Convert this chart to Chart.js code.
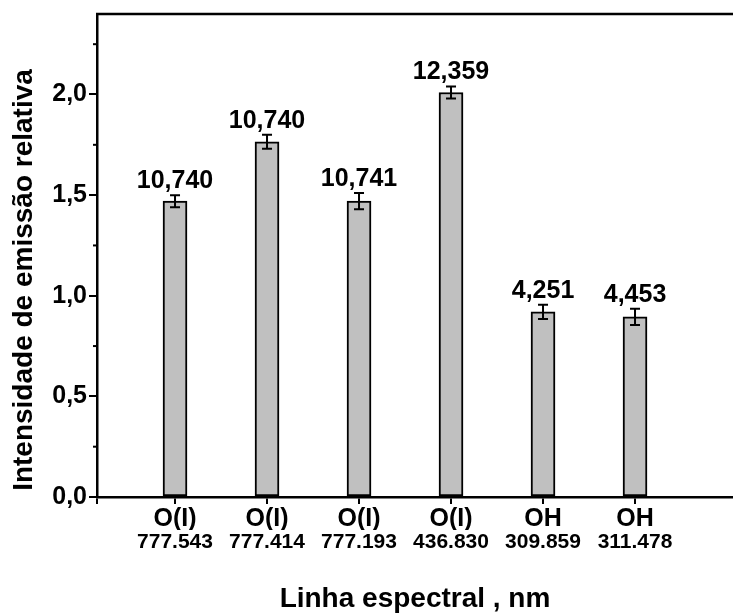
<!DOCTYPE html>
<html><head><meta charset="utf-8">
<script src="https://cdn.jsdelivr.net/npm/chart.js@4"></script>
<style>html,body{margin:0;padding:0;background:#fff}</style>
</head><body>
<canvas id="c" width="733" height="614"></canvas>
<script>
const positions = [1, 2, 3, 4, 5, 6];
const species = ["O(I)", "O(I)", "O(I)", "O(I)", "OH", "OH"];
const wavelengths = ["777.543", "777.414", "777.193", "436.830", "309.859", "311.478"];
const intensities = [1.47, 1.765, 1.47, 2.01, 0.92, 0.895];
const errors = [0.03, 0.035, 0.04, 0.03, 0.035, 0.04];
const barLabels = ["10,740", "10,740", "10,741", "12,359", "4,251", "4,453"];
const yMajorTicks = [0, 0.5, 1.0, 1.5, 2.0];
const yMinorTicks = [0.25, 0.75, 1.25, 1.75, 2.25];
const yTitle = "Intensidade de emissão relativa";
const xTitle = "Linha espectral , nm";

const FONT = "'Liberation Sans', Arial, sans-serif";
const X_MIN = 0.152, X_MAX = 7.065;

const extras = {
  id: 'extras',
  afterDatasetsDraw(chart) {
    const ctx = chart.ctx, xs = chart.scales.x, ys = chart.scales.y, a = chart.chartArea;
    ctx.save();
    ctx.strokeStyle = '#000';
    ctx.lineWidth = 2;
    positions.forEach((p, i) => {
      const px = xs.getPixelForValue(p);
      const yHi = ys.getPixelForValue(intensities[i] + errors[i]);
      const yLo = ys.getPixelForValue(intensities[i] - errors[i]);
      ctx.beginPath();
      ctx.moveTo(px, yHi); ctx.lineTo(px, yLo);
      ctx.moveTo(px - 5, yHi); ctx.lineTo(px + 5, yHi);
      ctx.moveTo(px - 5, yLo); ctx.lineTo(px + 5, yLo);
      ctx.stroke();
      ctx.fillStyle = '#000';
      ctx.font = "bold 25px " + FONT;
      ctx.textAlign = 'center';
      ctx.textBaseline = 'alphabetic';
      ctx.fillText(barLabels[i], px, yHi - 7);
    });
    ctx.lineWidth = 2;
    yMinorTicks.forEach(v => {
      const py = ys.getPixelForValue(v);
      ctx.beginPath(); ctx.moveTo(a.left - 4, py); ctx.lineTo(a.left, py); ctx.stroke();
    });
    ctx.lineWidth = 2.5;
    ctx.beginPath(); ctx.moveTo(a.left - 1, a.top); ctx.lineTo(chart.width, a.top); ctx.stroke();
    ctx.restore();
  },
  afterDraw(chart) {
    const ctx = chart.ctx, a = chart.chartArea;
    ctx.save();
    ctx.fillStyle = '#000';
    ctx.font = "bold 28px " + FONT;
    ctx.textAlign = 'center';
    ctx.textBaseline = 'alphabetic';
    ctx.fillText(xTitle, (a.left + a.right) / 2, 607);
    ctx.translate(32, 280);
    ctx.rotate(-Math.PI / 2);
    ctx.fillText(yTitle, 0, 0);
    ctx.restore();
  }
};

const xTickList = (scale) => { scale.ticks = [{ value: X_MIN }].concat(positions.map(v => ({ value: v }))); };
const labelFor = (arr) => (val) => { const i = positions.indexOf(val); return i >= 0 ? arr[i] : ''; };

new Chart(document.getElementById('c'), {
  type: 'bar',
  data: {
    datasets: [{
      data: positions.map((p, i) => ({ x: p, y: intensities[i] })),
      backgroundColor: '#c0c0c0',
      borderColor: '#000',
      borderWidth: 2,
      borderSkipped: false,
      barThickness: 24
    }]
  },
  options: {
    responsive: false,
    animation: false,
    layout: { padding: { top: 14, right: 0, left: 0, bottom: 0 } },
    plugins: { legend: { display: false }, tooltip: { enabled: false } },
    scales: {
      x: {
        type: 'linear', position: 'bottom', min: X_MIN, max: X_MAX, offset: false,
        afterBuildTicks: xTickList,
        afterFit: (s) => { s.height = 33; s.paddingLeft = 0; s.paddingRight = 0; },
        grid: { display: true, offset: false, drawOnChartArea: false, drawTicks: true, tickLength: 7, color: '#000', lineWidth: 2 },
        border: { display: true, color: '#000', width: 2.5 },
        ticks: { autoSkip: false, maxRotation: 0, padding: 0, color: '#000', font: { family: FONT, size: 25, weight: 'bold' }, callback: labelFor(species) }
      },
      x2: {
        type: 'linear', position: 'bottom', min: X_MIN, max: X_MAX, offset: false,
        afterBuildTicks: xTickList,
        afterFit: (s) => { s.height = 84; s.paddingLeft = 0; s.paddingRight = 0; },
        grid: { display: false, offset: false, drawTicks: false },
        border: { display: false },
        ticks: { autoSkip: false, maxRotation: 0, padding: 0, color: '#000', font: { family: FONT, size: 21, weight: 'bold' }, callback: labelFor(wavelengths) }
      },
      y: {
        type: 'linear', min: 0, max: 2.4,
        afterBuildTicks: (s) => { s.ticks = yMajorTicks.map(v => ({ value: v })); },
        afterFit: (s) => { s.width = 97; s.paddingTop = 0; s.paddingBottom = 0; },
        grid: { display: true, drawOnChartArea: false, drawTicks: true, tickLength: 8, color: '#000', lineWidth: 2 },
        border: { display: true, color: '#000', width: 2.5 },
        ticks: { padding: 2, color: '#000', font: { family: FONT, size: 25, weight: 'bold' }, callback: (v) => v.toFixed(1).replace('.', ',') }
      }
    }
  },
  plugins: [extras]
});
</script>
</body></html>
